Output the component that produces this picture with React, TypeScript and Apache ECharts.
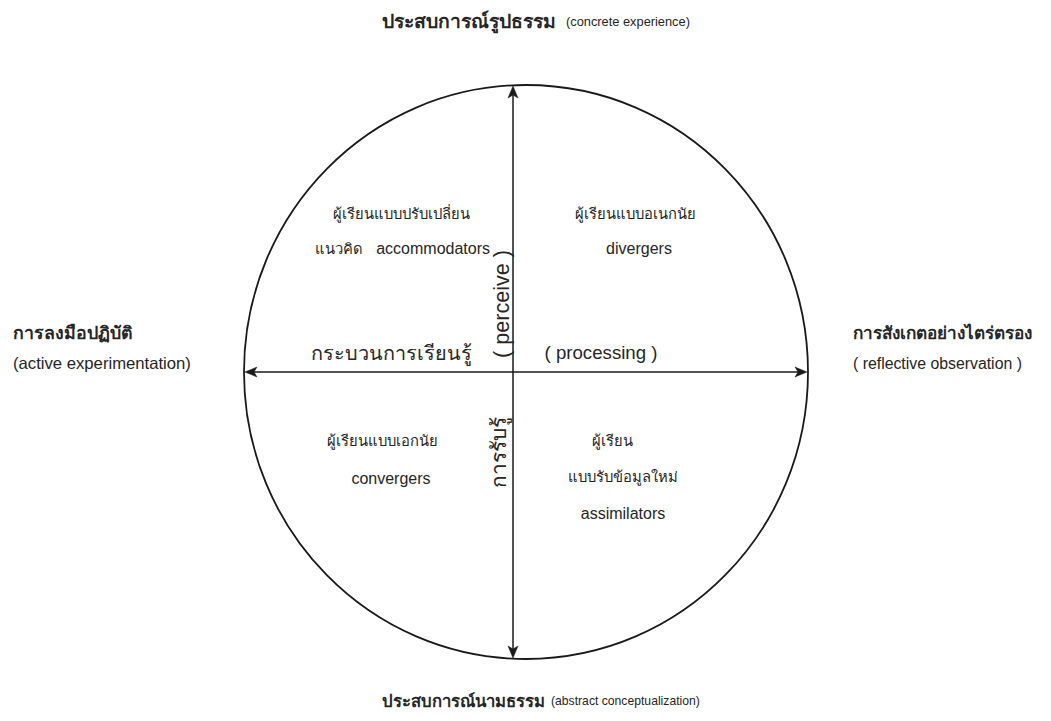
import React, { useEffect, useRef } from "react";
import * as echarts from "echarts";

const topTitle = ["ประสบการณ์รูปธรรม", "(concrete experience)"];
const bottomTitle = ["ประสบการณ์นามธรรม", "(abstract conceptualization)"];
const leftLabels = ["การลงมือปฏิบัติ", "(active experimentation)"];
const rightLabels = ["การสังเกตอย่างไตร่ตรอง", "( reflective observation )"];
const quadTL = ["ผู้เรียนแบบปรับเปลี่ยน", "แนวคิด", "accommodators"];
const quadTR = ["ผู้เรียนแบบอเนกนัย", "divergers"];
const quadBL = ["ผู้เรียนแบบเอกนัย", "convergers"];
const quadBR = ["ผู้เรียน", "แบบรับข้อมูลใหม่", "assimilators"];
const axisLabels = ["กระบวนการเรียนรู้", "( processing )", "( perceive )", "การรับรู้"];

const TH = "'Noto Sans', 'DejaVu Sans', sans-serif";
const EN = "'Liberation Sans', Arial, sans-serif";
const INK = "#1a1a1a";
const TXT = "#262626";

let ctx: CanvasRenderingContext2D | null = null;
function measure(text: string, weight: string, family: string) {
  if (!ctx) ctx = document.createElement("canvas").getContext("2d");
  ctx!.font = `${weight} 100px ${family}`;
  return ctx!.measureText(text).width;
}
function fit(text: string, target: number, weight: string, family: string) {
  return (100 * target) / measure(text, weight, family);
}

function arrowHead(x: number, y: number, dir: "up" | "down" | "left" | "right") {
  const L = 12, W = 5, notch = 3;
  let pts: number[][] = [];
  if (dir === "up") pts = [[x, y], [x + W, y + L], [x, y + L - notch], [x - W, y + L]];
  if (dir === "down") pts = [[x, y], [x + W, y - L], [x, y - L + notch], [x - W, y - L]];
  if (dir === "left") pts = [[x, y], [x + L, y - W], [x + L - notch, y], [x + L, y + W]];
  if (dir === "right") pts = [[x, y], [x - L, y - W], [x - L + notch, y], [x - L, y + W]];
  return { type: "polygon", shape: { points: pts }, style: { fill: INK, stroke: INK, lineWidth: 0.5 }, silent: true };
}

function txt(text: string, x: number, y: number, size: number, family: string, opts: any = {}) {
  return {
    type: "text",
    x,
    y,
    rotation: opts.rotation || 0,
    style: {
      text,
      fill: opts.fill || TXT,
      font: `${opts.weight || "normal"} ${size.toFixed(2)}px ${family}`,
      textAlign: opts.align || "center",
      textVerticalAlign: "middle",
    },
    silent: true,
  };
}

export default function App() {
  const ref = useRef<HTMLDivElement>(null);
  useEffect(() => {
    document.body.style.margin = "0";
    if (!ref.current) return;
    const chart = echarts.init(ref.current, null, { renderer: "svg" });
    const cx = 526, cy = 372, rx = 282, ry = 287;
    const vx = 513;
    const qTh = fit(quadBL[0], 110, "normal", TH);
    const qEn = 16;
    const elements: any[] = [
      { type: "rect", shape: { x: 0, y: 0, width: 1051, height: 721 }, style: { fill: "#fff" }, silent: true },
      { type: "ellipse", shape: { cx, cy, rx, ry }, style: { fill: "none", stroke: INK, lineWidth: 1.8 }, silent: true },
      { type: "line", shape: { x1: vx, y1: 94, x2: vx, y2: 650 }, style: { stroke: INK, lineWidth: 1.5 }, silent: true },
      { type: "line", shape: { x1: 252, y1: cy, x2: 800, y2: cy }, style: { stroke: INK, lineWidth: 1.5 }, silent: true },
      arrowHead(vx, 86, "up"),
      arrowHead(vx, 658, "down"),
      arrowHead(245, cy, "left"),
      arrowHead(807, cy, "right"),
      // titles
      txt(topTitle[0], 382, 20, fit(topTitle[0], 176, "bold", TH), TH, { weight: "bold", align: "left" }),
      txt(topTitle[1], 566, 21, fit(topTitle[1], 124, "normal", EN), EN, { align: "left" }),
      txt(bottomTitle[0], 382, 700, fit(bottomTitle[0], 164, "bold", TH), TH, { weight: "bold", align: "left" }),
      txt(bottomTitle[1], 551, 701, fit(bottomTitle[1], 149, "normal", EN), EN, { align: "left" }),
      txt(leftLabels[0], 13, 332, fit(leftLabels[0], 118, "bold", TH), TH, { weight: "bold", align: "left" }),
      txt(leftLabels[1], 13, 363, fit(leftLabels[1], 178, "normal", EN), EN, { align: "left" }),
      txt(rightLabels[0], 853, 332, fit(rightLabels[0], 182, "bold", TH), TH, { weight: "bold", align: "left" }),
      txt(rightLabels[1], 853, 363, fit(rightLabels[1], 169, "normal", EN), EN, { align: "left" }),
      // quadrants
      txt(quadTL[0], 401, 213, qTh, TH),
      txt(quadTL[1], 315, 248, qTh, TH, { align: "left" }),
      txt(quadTL[2], 490, 248, qEn, EN, { align: "right" }),
      txt(quadTR[0], 635, 213, qTh, TH),
      txt(quadTR[1], 639, 248, qEn, EN),
      txt(quadBL[0], 382, 440, qTh, TH),
      txt(quadBL[1], 391, 478, qEn, EN),
      txt(quadBR[0], 612, 440, qTh, TH),
      txt(quadBR[1], 623, 476, qTh, TH),
      txt(quadBR[2], 623, 513, qEn, EN),
      // axis labels
      txt(axisLabels[0], 391, 352, fit(axisLabels[0], 158, "normal", TH), TH),
      txt(axisLabels[1], 601, 352, fit(axisLabels[1], 113, "normal", EN), EN),
      txt(axisLabels[2], 501, 304, fit(axisLabels[2], 108, "normal", EN), EN, { rotation: Math.PI / 2 }),
      txt(axisLabels[3], 498, 452, fit(axisLabels[3], 71, "normal", TH), TH, { rotation: Math.PI / 2 }),
    ];
    chart.setOption({ animation: false, graphic: { elements } });
    return () => chart.dispose();
  }, []);
  return <div ref={ref} style={{ position: "absolute", left: 0, top: 0, width: 1051, height: 721 }} />;
}
